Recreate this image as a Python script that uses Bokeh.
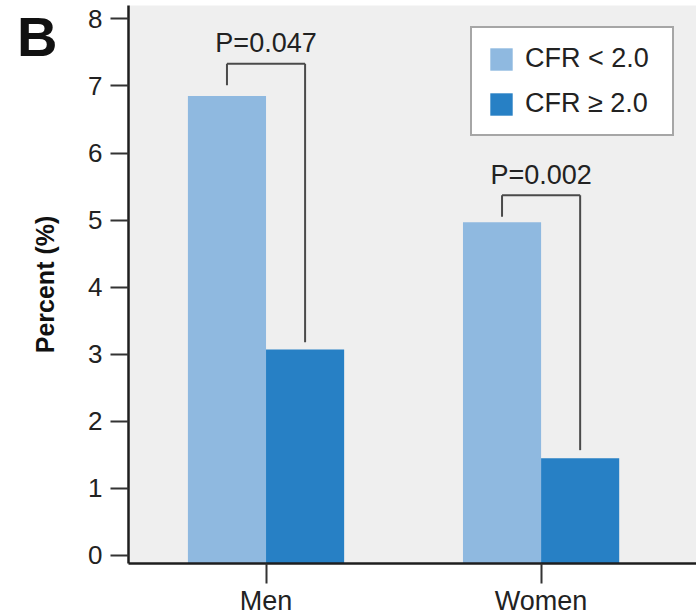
from bokeh.plotting import figure
from bokeh.models import (ColumnDataSource, Range1d, FixedTicker, LinearAxis,
                          Legend, LegendItem)
from bokeh.transform import dodge
from bokeh.embed import file_html
from bokeh.resources import INLINE

# ---------------- data ----------------
groups = ["Men", "Women"]
cfr_low = [6.85, 4.97]        # CFR < 2.0
cfr_high = [3.07, 1.45]       # CFR >= 2.0
series_labels = ["CFR < 2.0", "CFR \u2265 2.0"]
p_labels = ["P=0.047", "P=0.002"]
bracket_top = [7.33, 5.37]
bracket_left_end = [7.01, 5.05]
bracket_right_end = [3.18, 1.57]
y_ticks = [0, 1, 2, 3, 4, 5, 6, 7, 8]
y_label = "Percent (%)"
panel_letter = "B"

# ---------------- style / layout ----------------
FONT = "Liberation Sans"
LIGHT = "#8fb9e0"
DARK = "#2780c5"
BG = "#efefef"
INK = "#1e1e1e"
Y_START, Y_END = -0.12, 8.2
X_START, X_END = 0.0, 2.065
OFF = 0.142
BAR_W = 0.284
P_GAP = 0.31
LETTER_Y = 7.87     # vertical anchor of the panel letter (left margin)

# category slot centres on the numeric axis
x_pos = [i + 0.5 for i in range(len(groups))]

src = ColumnDataSource(dict(
    x=x_pos, grp=groups, low=cfr_low, high=cfr_high, ptxt=p_labels,
    btop=bracket_top, bl=bracket_left_end, br=bracket_right_end,
    ty=[b + P_GAP for b in bracket_top],
    base=[Y_START] * len(groups),
))

p = figure(
    x_range=Range1d(X_START, X_END),
    y_range=Range1d(Y_START, Y_END),
    frame_width=568, frame_height=558,
    min_border_left=128, min_border_right=0, min_border_top=5, min_border_bottom=52,
    output_backend="svg", toolbar_location=None,
    background_fill_color=BG, border_fill_color="white",
)
p.outline_line_color = None
p.xgrid.visible = False
p.ygrid.visible = False

r_low = p.vbar(x=dodge("x", -OFF), top="low", bottom="base",
               width=BAR_W, source=src, fill_color=LIGHT, line_color=None)
r_high = p.vbar(x=dodge("x", OFF), top="high", bottom="base",
                width=BAR_W, source=src, fill_color=DARK, line_color=None)

# significance brackets
BR_COL = "#4a4a4a"
p.segment(x0=dodge("x", -OFF), x1=dodge("x", -OFF),
          y0="bl", y1="btop", source=src, line_color=BR_COL, line_width=2)
p.segment(x0=dodge("x", -OFF), x1=dodge("x", OFF),
          y0="btop", y1="btop", source=src, line_color=BR_COL, line_width=2)
p.segment(x0=dodge("x", OFF), x1=dodge("x", OFF),
          y0="btop", y1="br", source=src, line_color=BR_COL, line_width=2)
p.text(x="x", y="ty", text="ptxt", source=src,
       text_align="center", text_baseline="alphabetic",
       text_font={"value": FONT}, text_font_size="27px", text_color="#222222")

# axes
ya = p.yaxis[0]
ya.ticker = FixedTicker(ticks=y_ticks)
ya.axis_label = y_label
ya.axis_label_text_font = FONT
ya.axis_label_text_font_style = "bold"
ya.axis_label_text_font_size = "25px"
ya.axis_label_text_color = "#111111"
ya.axis_label_standoff = 26
ya.major_label_text_font = FONT
ya.major_label_text_font_size = "26px"
ya.major_label_text_color = "#222222"
ya.major_label_standoff = 8
ya.major_tick_out = 18
ya.major_tick_in = 0
ya.minor_tick_out = 0
ya.minor_tick_in = 0
ya.major_tick_line_width = 2
ya.major_tick_line_color = "#333333"
ya.axis_line_width = 2.5
ya.axis_line_color = INK

xa = p.xaxis[0]
xa.ticker = FixedTicker(ticks=x_pos)
xa.major_label_overrides = {xv: g for xv, g in zip(x_pos, groups)}
xa.major_label_text_font = FONT
xa.major_label_text_font_size = "27px"
xa.major_label_text_color = "#222222"
xa.major_label_standoff = 2
xa.major_tick_out = 20
xa.major_tick_in = 0
xa.minor_tick_out = 0
xa.minor_tick_in = 0
xa.major_tick_line_width = 2
xa.major_tick_line_color = "#333333"
xa.axis_line_width = 2.5
xa.axis_line_color = INK

# panel letter: a bare outer left axis carrying one label
letter_axis = LinearAxis(
    ticker=FixedTicker(ticks=[LETTER_Y], minor_ticks=[]),
    major_label_overrides={LETTER_Y: panel_letter},
    axis_line_color=None, major_tick_line_color=None, minor_tick_line_color=None,
    major_tick_out=0, major_tick_in=0, minor_tick_out=0, minor_tick_in=0,
    major_label_standoff=-29,
    major_label_text_font=FONT, major_label_text_font_size="56px",
    major_label_text_font_style="bold", major_label_text_color="#111111",
)
p.add_layout(letter_axis, "left")

# legend
legend = Legend(
    items=[LegendItem(label=series_labels[0], renderers=[r_low]),
           LegendItem(label=series_labels[1], renderers=[r_high])],
    location=(342, 427),
    border_line_color="#4d4d4d", border_line_width=2.5,
    background_fill_color="white", background_fill_alpha=1.0,
    glyph_width=28, glyph_height=28,
    label_text_font=FONT, label_text_font_size="27px", label_text_color="#222222",
    padding=15, spacing=14, label_standoff=10, margin=0, label_width=132,
)
p.add_layout(legend)

open("out.html", "w").write(file_html(p, INLINE))
